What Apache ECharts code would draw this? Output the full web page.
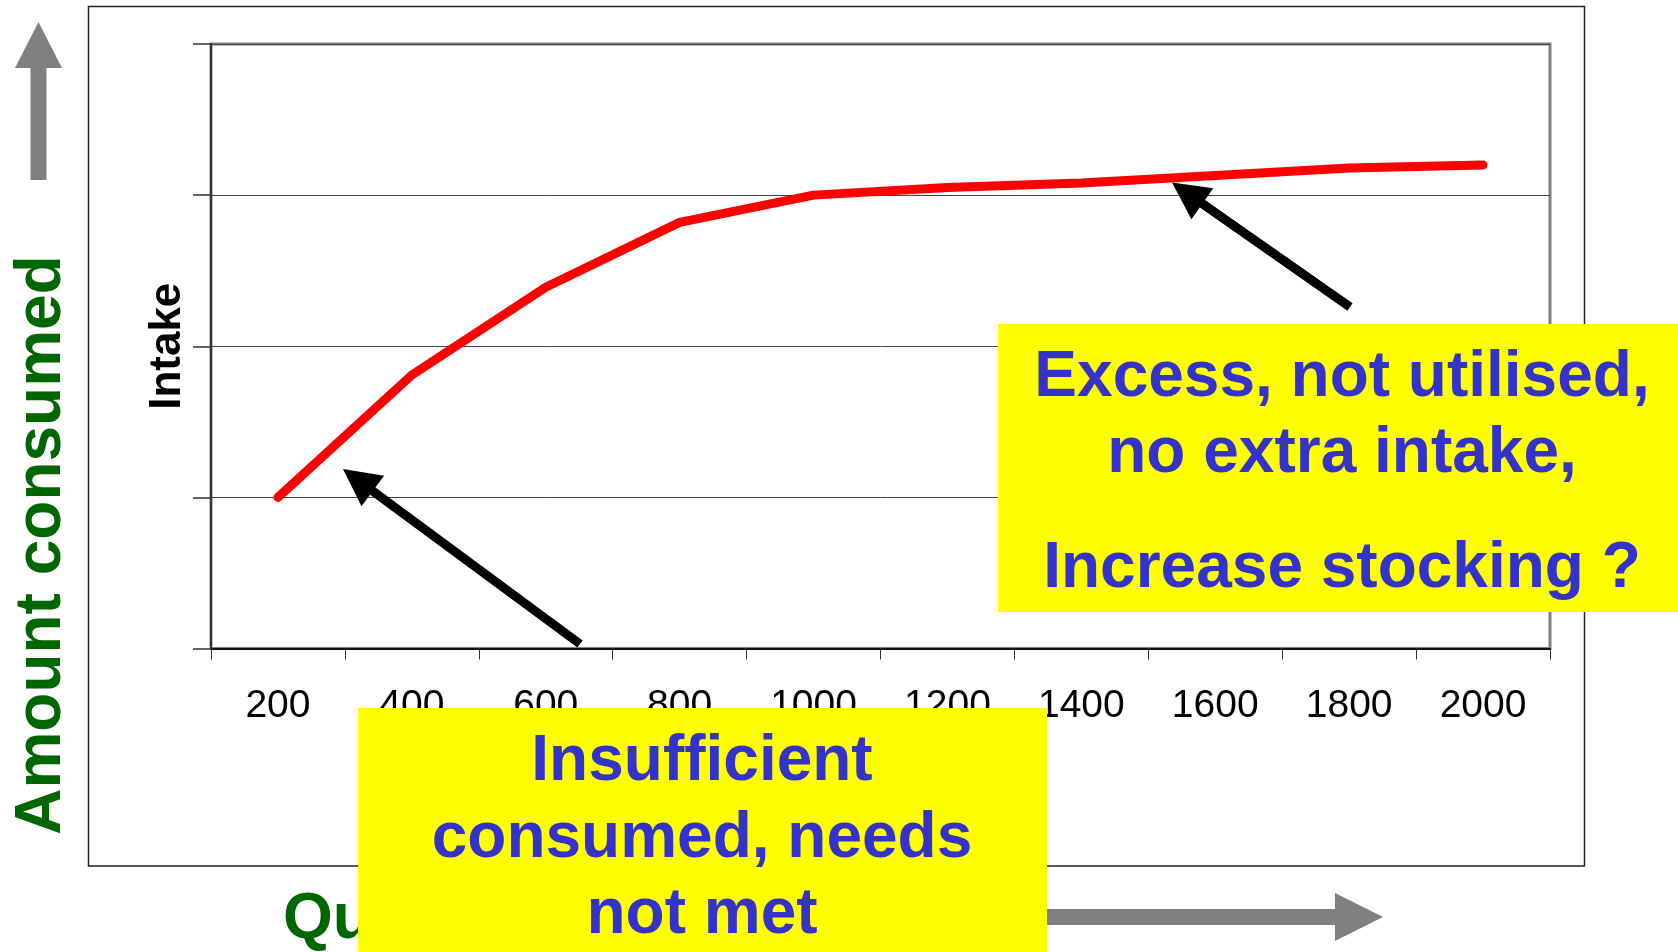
<!DOCTYPE html>
<html>
<head>
<meta charset="utf-8">
<title>Intake vs quantity offered</title>
<script src="https://cdn.jsdelivr.net/npm/echarts@6/dist/echarts.min.js"></script>
<style>
  html, body { margin: 0; padding: 0; background: #ffffff; }
  #chart { width: 1678px; height: 952px; }
</style>
</head>
<body>
<div id="chart"></div>
<script>
// Quantity offered (category axis) and the resulting intake
const quantities = ['200', '400', '600', '800', '1000', '1200', '1400', '1600', '1800', '2000'];
const intake = [1.0, 1.81, 2.39, 2.82, 3.0, 3.05, 3.08, 3.13, 3.18, 3.2];

// Intake axis: unlabelled gridlines 0..4
const intakeMin = 0;
const intakeMax = 4;
const intakeStep = 1;

const intakeTitle = 'Intake';
const sideTitle = 'Amount consumed';
const bottomTitle = 'Quantity offered';
const excessNote = ['Excess, not utilised,', 'no extra intake,', 'Increase stocking ?'];
const shortfallNote = ['Insufficient', 'consumed, needs', 'not met'];

const FONT = '"Liberation Sans", Arial, Helvetica, sans-serif';
const NOTE_BLUE = '#3333CC';
const NOTE_YELLOW = '#FFFF00';
const TITLE_GREEN = '#006600';
const ARROW_GRAY = '#808080';

// Straight arrow with a triangular head, drawn from tail (x1,y1) to tip (x2,y2)
function arrow(x1, y1, x2, y2, width, headLen, headHalf, color, z) {
  const dx = x2 - x1, dy = y2 - y1;
  const len = Math.sqrt(dx * dx + dy * dy);
  const ux = dx / len, uy = dy / len;
  const px = -uy, py = ux;
  const bx = x2 - ux * headLen, by = y2 - uy * headLen;
  return [
    {
      type: 'line', z: z, silent: true,
      shape: { x1: x1, y1: y1, x2: bx + ux * 2, y2: by + uy * 2 },
      style: { stroke: color, lineWidth: width, lineCap: 'butt' }
    },
    {
      type: 'polygon', z: z, silent: true,
      shape: { points: [[x2, y2], [bx + px * headHalf, by + py * headHalf], [bx - px * headHalf, by - py * headHalf]] },
      style: { fill: color }
    }
  ];
}

function noteLines(lines, cx, ys, z) {
  return lines.map(function (t, i) {
    return {
      type: 'text', z: z, silent: true,
      style: {
        text: t, x: cx, y: ys[i], align: 'center', verticalAlign: 'middle',
        fontFamily: FONT, fontWeight: 'bold', fontSize: 64, fill: NOTE_BLUE
      }
    };
  });
}

const chart = echarts.init(document.getElementById('chart'), null, { renderer: 'canvas' });

const graphics = [].concat(
  // outer frame of the chart object
  [{
    type: 'rect', z: -10, silent: true,
    shape: { x: 88.5, y: 6.5, width: 1496, height: 859.5 },
    style: { fill: null, stroke: '#222222', lineWidth: 1.5 }
  }],
  // side title with upward arrow
  [{
    type: 'text', z: 5, silent: true, x: 42.5, y: 545, rotation: Math.PI / 2,
    style: {
      text: sideTitle, x: 0, y: 0, align: 'center', verticalAlign: 'middle',
      fontFamily: FONT, fontWeight: 'bold', fontSize: 64, fill: TITLE_GREEN
    }
  }],
  arrow(38.5, 180, 38.5, 22, 16, 46, 23.5, ARROW_GRAY, 5),
  // bottom title with rightward arrow
  [{
    type: 'text', z: 5, silent: true,
    style: {
      text: bottomTitle, x: 283, y: 920, align: 'left', verticalAlign: 'middle',
      fontFamily: FONT, fontWeight: 'bold', fontSize: 64, fill: TITLE_GREEN
    }
  }],
  arrow(940, 917, 1383, 917, 16, 48, 24, ARROW_GRAY, 5),
  // note boxes
  [{
    type: 'rect', z: 50, silent: true,
    shape: { x: 998, y: 324, width: 680, height: 288 },
    style: { fill: NOTE_YELLOW }
  }, {
    type: 'rect', z: 50, silent: true,
    shape: { x: 358, y: 708, width: 689, height: 244 },
    style: { fill: NOTE_YELLOW }
  }],
  noteLines(excessNote, 1342, [378, 454, 569.5], 51),
  noteLines(shortfallNote, 702, [762.5, 839.5, 915.5], 51),
  // pointer arrows
  arrow(580, 644, 343, 469, 9, 37, 19, '#000000', 60),
  arrow(1350, 307, 1172, 182.5, 9, 37, 19, '#000000', 60)
);

const option = {
  backgroundColor: '#ffffff',
  animation: false,
  textStyle: { fontFamily: FONT },
  grid: {
    left: 211, right: 128, top: 44, bottom: 303.5,
    show: true, borderColor: '#808080', borderWidth: 3, backgroundColor: 'transparent'
  },
  xAxis: {
    type: 'category',
    data: quantities,
    boundaryGap: true,
    axisLine: { show: true, lineStyle: { color: '#111111', width: 2 } },
    axisTick: { show: true, inside: false, length: 11, lineStyle: { color: '#333333', width: 1 } },
    axisLabel: { color: '#000000', fontFamily: FONT, fontSize: 39, margin: 38.5 },
    splitLine: { show: false }
  },
  yAxis: {
    type: 'value',
    min: intakeMin, max: intakeMax, interval: intakeStep,
    name: intakeTitle,
    nameLocation: 'middle',
    nameRotate: 90,
    nameGap: 21,
    nameTextStyle: { color: '#000000', fontFamily: FONT, fontWeight: 'bold', fontSize: 44 },
    axisLine: { show: true, lineStyle: { color: '#333333', width: 2 } },
    axisTick: { show: true, inside: false, length: 18, lineStyle: { color: '#333333', width: 1.5 } },
    axisLabel: { show: false },
    splitLine: { show: true, lineStyle: { color: '#444444', width: 1 } }
  },
  series: [{
    type: 'line',
    data: intake,
    symbol: 'none',
    smooth: false,
    lineStyle: { color: '#FF0000', width: 9, cap: 'round', join: 'round' },
    z: 3
  }],
  graphic: { elements: graphics }
};

chart.setOption(option);
</script>
</body>
</html>
